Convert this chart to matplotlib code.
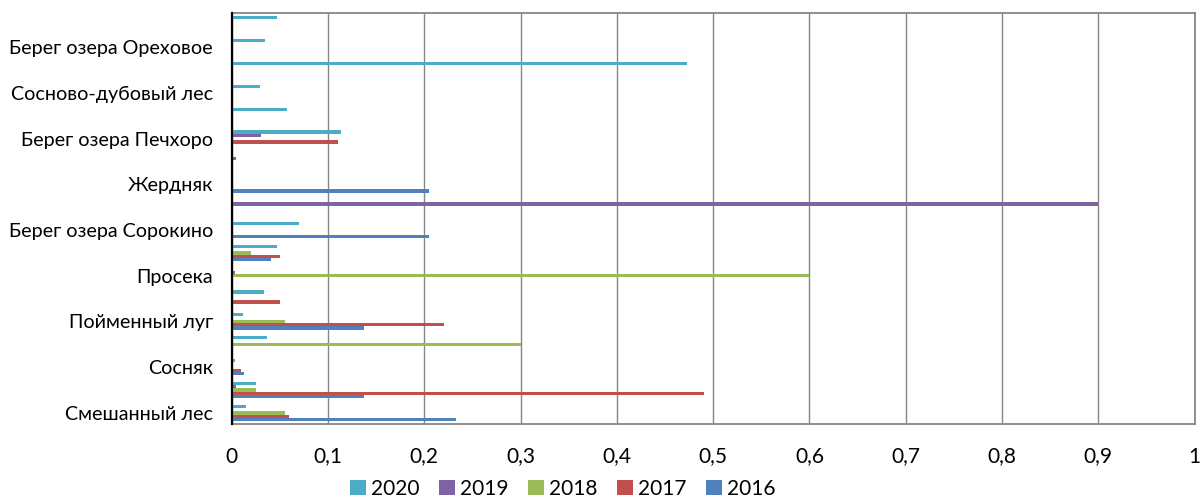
import matplotlib
matplotlib.use("Agg")
import matplotlib.pyplot as plt
import numpy as np

plt.rcParams['font.family'] = ['Lato', 'Noto Sans', 'DejaVu Sans']

# Categories from bottom to top; only every other one carries a label
categories = ["Смешанный лес", "", "Сосняк", "", "Пойменный луг", "",
              "Просека", "", "Берег озера Сорокино", "", "Жердняк", "",
              "Берег озера Печхоро", "", "Сосново-дубовый лес", "",
              "Берег озера Ореховое", ""]

v2016 = [0.233, 0.137, 0.013, 0, 0.137, 0, 0, 0.041, 0.205, 0,
         0.205, 0, 0, 0, 0, 0, 0, 0]
v2017 = [0.06, 0.49, 0.01, 0, 0.22, 0.05, 0, 0.05, 0, 0,
         0, 0, 0.11, 0, 0, 0, 0, 0]
v2018 = [0.055, 0.025, 0, 0.3, 0.055, 0, 0.6, 0.02, 0, 0,
         0, 0, 0, 0, 0, 0, 0, 0]
v2019 = [0, 0.004, 0, 0, 0, 0, 0.003, 0, 0, 0.9,
         0, 0.004, 0.03, 0, 0, 0, 0, 0]
v2020 = [0.015, 0.025, 0.0035, 0.037, 0.012, 0.034, 0, 0.047, 0.07, 0,
         0, 0, 0.113, 0.057, 0.029, 0.473, 0.035, 0.047]

series = [("2016", v2016, "#4F81BD"),
          ("2017", v2017, "#C0504D"),
          ("2018", v2018, "#9BBB59"),
          ("2019", v2019, "#8064A2"),
          ("2020", v2020, "#4BACC6")]

x_ticks = [0, 0.1, 0.2, 0.3, 0.4, 0.5, 0.6, 0.7, 0.8, 0.9, 1.0]
x_tick_labels = ["0", "0,1", "0,2", "0,3", "0,4", "0,5", "0,6", "0,7", "0,8", "0,9", "1"]

fig = plt.figure(figsize=(12, 5), dpi=100)
ax = fig.add_axes([0.1931, 0.1514, 0.9955 - 0.1931, 0.974 - 0.1514])

pos = np.arange(len(categories))
h = 0.1455
handles = {}
for k, (name, vals, color) in enumerate(series):
    offs = (k - 2) * h
    handles[name] = ax.barh(pos + offs, vals, height=h, color=color,
                            edgecolor='none', zorder=3, label=name)

ax.set_xlim(0, 1)
ax.set_ylim(-0.5, len(categories) - 0.5)
ax.set_xticks(x_ticks)
ax.set_xticklabels(x_tick_labels, fontsize=15)
lab_idx = [i for i, c in enumerate(categories) if c]
ax.set_yticks(lab_idx)
ax.set_yticklabels([categories[i] for i in lab_idx], fontsize=14.2)
ax.tick_params(axis='both', length=0)
ax.tick_params(axis='y', pad=13.5)
ax.tick_params(axis='x', pad=16)

ax.grid(axis='x', color='#868686', linewidth=1.0, zorder=1)
for side in ['top', 'right', 'bottom']:
    ax.spines[side].set_color('#868686')
    ax.spines[side].set_linewidth(1.3)
ax.spines['left'].set_color('black')
ax.spines['left'].set_linewidth(1.6)
ax.spines['left'].set_zorder(4)

order = ["2020", "2019", "2018", "2017", "2016"]
fig.legend([handles[n] for n in order], order, loc='center',
           bbox_to_anchor=(0.469, 0.022), ncol=5, frameon=False,
           fontsize=15, handlelength=0.75, handleheight=0.75,
           handletextpad=0.25, columnspacing=0.95)

fig.savefig("out.png", dpi=100)
